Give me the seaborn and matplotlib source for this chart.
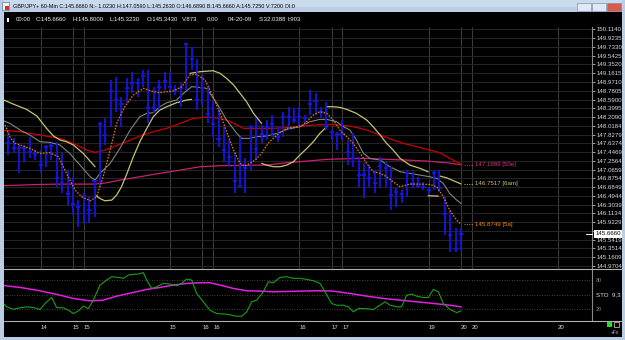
import numpy as np
import pandas as pd
import matplotlib
matplotlib.use("Agg")
import matplotlib.pyplot as plt
import seaborn as sns
from matplotlib.patches import Rectangle
from matplotlib.lines import Line2D

# ---------------- data ----------------
bar_high = [147.889, 147.744, 147.599, 147.599, 147.780, 147.490, 147.490, 147.599, 147.635, 147.671,
            147.417, 147.054, 146.909, 146.401, 146.546, 146.474, 146.836, 148.107, 148.179, 149.014,
            149.087, 148.651, 149.050, 149.196, 149.050, 149.232, 149.232, 148.869, 149.014, 149.196,
            149.159, 148.905, 148.942, 149.813, 149.740, 149.464, 149.123, 148.869, 148.579, 148.397,
            147.998, 147.708, 147.417, 147.780, 147.308, 148.034, 148.179, 148.034, 148.143, 148.252,
            147.998, 148.325, 148.433, 148.397, 148.433, 148.252, 148.796, 148.724, 148.433, 148.542,
            147.925, 147.889, 148.143, 147.708, 147.853, 147.345, 147.199, 147.163, 147.054, 147.345,
            147.236, 147.127, 146.655, 146.619, 147.054, 147.018, 146.909, 146.800, 146.691, 147.059,
            147.054, 146.474, 146.183, 145.784, 145.800]
bar_low = [147.381, 147.453, 146.982, 147.236, 147.308, 147.272, 146.982, 147.127, 147.272, 146.691,
           146.546, 146.292, 146.074, 145.820, 145.893, 145.893, 146.038, 146.691, 147.599, 147.998,
           148.325, 147.998, 148.506, 148.724, 148.651, 148.869, 148.070, 148.288, 148.361, 148.796,
           148.724, 148.687, 148.433, 148.796, 149.232, 148.361, 148.470, 148.070, 147.780, 147.562,
           147.236, 147.127, 146.546, 146.691, 146.546, 147.054, 147.272, 147.635, 147.708, 147.780,
           147.671, 147.780, 147.925, 148.070, 147.998, 148.034, 148.252, 148.252, 148.179, 147.925,
           147.708, 147.490, 147.708, 147.163, 147.127, 146.691, 146.437, 146.691, 146.546, 146.691,
           146.691, 146.183, 146.256, 146.328, 146.474, 146.655, 146.655, 146.619, 146.510, 146.619,
           146.582, 145.638, 145.263, 145.276, 145.323]
bar_close = [147.649, 147.541, 147.541, 147.541, 147.453, 147.395, 147.163, 147.562, 147.577, 146.887,
             146.764, 146.532, 146.321, 146.248, 146.495, 146.176, 146.822, 148.049, 147.816, 148.782,
             148.579, 148.491, 148.833, 148.942, 148.942, 149.101, 148.397, 148.397, 148.869, 149.000,
             148.869, 148.796, 148.847, 149.791, 149.471, 148.579, 148.833, 148.266, 148.056, 147.729,
             147.490, 147.345, 146.822, 146.713, 147.105, 147.998, 147.504, 147.838, 147.998, 148.049,
             147.766, 148.216, 148.201, 148.143, 148.201, 148.179, 148.484, 148.564, 148.325, 148.034,
             147.889, 147.838, 147.838, 147.439, 147.308, 146.945, 146.945, 146.873, 146.764, 147.149,
             147.091, 146.510, 146.582, 146.532, 146.982, 146.749, 146.713, 146.691, 146.619, 146.982,
             146.655, 146.088, 145.638, 145.326, 145.666]

ma5_x = [-0.6, 0.3, 1.2, 2.2, 4, 5.9, 7.7, 9.3, 10.8, 12.4, 13.6, 15.2, 16.4, 17.6, 18.9, 20.1, 21.6, 23.2,
         25.1, 26.9, 28.1, 29.4, 30.6, 32.2, 33.7, 34.9, 36.5, 38, 39.3, 40.5, 41.8, 43, 43.9, 44.8, 45.8,
         47, 48.2, 49.8, 51.7, 53.5, 54.7, 56.6, 57.8, 59.1, 60.3, 61.5, 62.8, 64, 65.3, 66.5, 67.7, 69,
         70.2, 71.4, 72.7, 74.5, 76.4, 78.2, 79.5, 80.7, 81.9, 83.2, 84]
ma5_y = [148.034, 147.780, 147.635, 147.599, 147.526, 147.417, 147.432, 147.345, 146.982, 146.619,
         146.474, 146.386, 146.474, 146.909, 147.490, 148.070, 148.433, 148.688, 148.833, 148.760,
         148.738, 148.760, 148.775, 148.869, 149.123, 149.138, 149.014, 148.651, 148.288, 147.889,
         147.490, 147.199, 147.141, 147.199, 147.272, 147.417, 147.635, 147.816, 147.962, 147.998,
         148.034, 148.252, 148.325, 148.288, 148.143, 147.925, 147.780, 147.635, 147.417, 147.199,
         147.018, 146.982, 146.909, 146.800, 146.691, 146.749, 146.749, 146.742, 146.691, 146.474,
         146.183, 145.965, 145.875]

gray_x = [-1.54, 0.3, 2.2, 4.0, 5.9, 7.7, 9.6, 11.4, 13.3, 15.2, 16.1, 17.0, 18.9, 20.7, 22.6, 24.4, 25.7,
          26.9, 28.1, 29.4, 31.2, 32.5, 34.0, 35.6, 36.8, 38.7, 40.5, 42.4, 43.3, 44.8, 46.1, 47.9, 49.8,
          51.7, 54.1, 56.0, 57.8, 59.1, 60.9, 62.2, 63.4, 64.6, 65.9, 67.1, 69.0, 70.8, 72.7, 74.5, 76.4,
          78.2, 79.5, 80.7, 81.9, 83.2, 84]
gray_y = [148.157, 148.070, 147.925, 147.816, 147.671, 147.657, 147.599, 147.417, 147.163, 146.909,
          146.836, 146.982, 147.199, 147.526, 147.925, 148.216, 148.288, 148.303, 148.433, 148.520,
          148.579, 148.724, 148.869, 148.854, 148.833, 148.506, 148.143, 147.853, 147.744, 147.744,
          147.780, 147.795, 147.853, 147.940, 147.998, 148.107, 148.157, 148.157, 148.107, 147.998,
          147.925, 147.708, 147.417, 147.308, 147.272, 147.127, 147.018, 146.982, 146.945, 146.909,
          146.873, 146.764, 146.546, 146.401, 146.328]

red_x = [-1.54, 2.2, 5.9, 9.6, 12.1, 14.5, 16.1, 17.6, 19.5, 21.9, 24.4, 26.9, 29.4, 31.9, 34.3, 36.2,
         38.0, 40.5, 42.4, 43.6, 46.1, 48.6, 51.7, 54.1, 56.6, 59.1, 61.5, 64.0, 66.5, 69.0, 71.4, 73.3,
         75.8, 78.2, 80.1, 81.9, 83.8, 84]
red_y = [147.925, 147.889, 147.816, 147.744, 147.635, 147.490, 147.439, 147.475, 147.562, 147.671,
         147.795, 147.889, 147.962, 148.070, 148.179, 148.201, 148.201, 148.143, 148.034, 147.962,
         147.962, 147.962, 147.976, 147.998, 148.034, 148.049, 148.034, 147.998, 147.925, 147.816,
         147.708, 147.635, 147.562, 147.490, 147.432, 147.308, 147.199, 147.163]

ema50_x = [-1.54, 2.2, 5.9, 9.6, 13.3, 16.1, 18.3, 20.7, 24.4, 28.1, 31.9, 35.6, 39.3, 43.0, 47.9, 51.7,
           55.4, 59.1, 62.8, 66.5, 70.2, 73.9, 77.6, 81.3, 84]
ema50_y = [146.713, 146.727, 146.742, 146.749, 146.749, 146.749, 146.778, 146.836, 146.909, 146.982,
           147.054, 147.127, 147.149, 147.156, 147.163, 147.214, 147.250, 147.287, 147.301, 147.308,
           147.287, 147.272, 147.250, 147.214, 147.170]

khaki_x = [
    [-1.54, 0.9, 3.4, 5.3, 7.1, 8.4, 9.6, 10.8, 12.1, 13.9, 16.1],
    [16.1, 17.0, 17.9, 19.2, 20.1, 21.0, 21.9, 23.2, 24.4, 25.7, 26.9, 28.1, 29.4, 31.2, 33.1, 34.0],
    [33.7, 35.6, 38.0, 39.3, 40.5, 41.8, 43.0, 44.2, 45.5, 47.0],
    [47.0, 47.9, 49.2, 50.4, 51.7, 52.9, 54.1, 55.4, 56.6, 57.8, 59.1],
    [59.1, 60.3, 61.5, 62.8, 64.6, 66.5, 67.7, 69.0, 70.2, 71.4, 72.7, 74.5, 76.4, 77.9],
    [77.9, 79.8],
    [80.1, 81.3, 82.6, 84],
]
khaki_y = [
    [148.615, 148.491, 148.375, 148.230, 147.962, 147.795, 147.708, 147.671, 147.599, 147.417, 147.127],
    [146.510, 146.437, 146.386, 146.401, 146.510, 146.691, 146.945, 147.345, 147.671, 147.962, 148.216,
     148.361, 148.433, 148.520, 148.579, 148.593],
    [149.159, 149.196, 149.217, 149.159, 149.050, 148.905, 148.724, 148.542, 148.288, 148.070],
    [147.199, 147.163, 147.127, 147.127, 147.163, 147.236, 147.381, 147.526, 147.671, 147.853, 147.998],
    [148.433, 148.433, 148.419, 148.375, 148.288, 148.143, 147.998, 147.816, 147.635, 147.490, 147.308,
     147.163, 147.091, 147.018],
    [146.495, 146.488],
    [146.923, 146.887, 146.822, 146.752],
]

stok_x = [-0.92, -0.3, 0.93, 2.17, 3.41, 4.64, 5.88, 6.81, 8.05, 8.97, 10.21, 11.14, 12.07, 12.99, 13.92,
          14.85, 15.78, 17.01, 18.25, 19.18, 20.41, 21.34, 22.27, 23.2, 24.12, 25.05, 25.67, 26.6, 27.53,
          28.76, 30.0, 31.24, 32.17, 33.09, 34.02, 34.95, 36.18, 37.42, 38.66, 40.51, 42.37, 43.3, 44.22,
          45.15, 46.08, 47.32, 48.24, 49.17, 50.41, 51.64, 52.88, 54.12, 55.36, 56.59, 57.83, 58.76, 60.0,
          60.92, 62.16, 63.09, 64.01, 64.94, 66.18, 67.73, 68.96, 69.89, 70.82, 72.05, 72.98, 73.91, 74.84,
          75.76, 77.0, 77.93, 78.86, 79.79, 80.71, 81.95, 83.19, 84.0]
stok_y = [32.2, 25.3, 20.5, 23.3, 25.3, 23.9, 19.9, 32.2, 44.4, 23.9, 23.3, 18.5, 11.7, 17.1, 26.7,
          21.9, 39.0, 69.7, 80.0, 86.8, 85.4, 83.4, 90.2, 91.6, 92.3, 95.0, 80.0, 62.9, 66.3,
          73.1, 71.8, 68.4, 73.1, 82.0, 80.0, 52.6, 35.6, 18.5, 11.7, 10.3, 6.2, 6.2, 15.1,
          35.6, 39.0, 56.1, 76.5, 74.5, 85.4, 86.8, 83.4, 83.4, 81.3, 78.6, 73.1, 56.1, 32.2,
          28.7, 28.7, 25.3, 15.1, 21.9, 21.9, 19.9, 28.7, 35.6, 28.7, 25.3, 25.3, 49.2, 51.3,
          47.2, 44.4, 44.4, 60.8, 56.1, 32.2, 19.9, 13.7, 17.1]

stod_x = [-1.54, 2.17, 5.88, 9.59, 12.07, 15.16, 17.63, 20.1, 23.2, 25.67, 28.15, 30.62, 33.09, 35.56,
          37.42, 39.28, 41.75, 44.22, 46.7, 49.17, 51.64, 54.12, 57.83, 60.3, 63.4, 66.5, 69.6, 72.7,
          75.8, 78.9, 81.95, 84.0]
stod_y = [69.7, 64.9, 58.1, 49.2, 42.4, 37.6, 39.0, 47.2, 54.7, 60.8, 64.9, 69.7, 73.1, 74.5,
          74.5, 69.7, 62.9, 58.1, 57.4, 56.1, 56.7, 57.4, 58.1, 57.4, 52.6, 47.2, 42.4, 39.0,
          35.6, 32.2, 28.7, 25.3]

price_ticks = ["150.1140", "149.9235", "149.7330", "149.5425", "149.3520", "149.1615", "148.9710",
               "148.7805", "148.5900", "148.3995", "148.2090", "148.0184", "147.8279", "147.6374",
               "147.4469", "147.2564", "147.0659", "146.8754", "146.6849", "146.4944", "146.3039",
               "146.1134", "145.9229", "145.7324", "145.5419", "145.3514", "145.1609", "144.9704"]
day_idx = [6, 12, 14, 30, 36, 38, 54, 60, 62, 78, 84, 86, 102]
day_labels = ["14", "15", "15", "15", "16", "16", "16", "17", "17", "19", "20", "20", "20"]
last_price = 145.666
label_ema50 = "147.1699 [50e]"
label_khaki = "146.7517 [6am]"
label_ma5 = "145.8749 [5a]"
title_text = ("GBP/JPY+ 60-Min C:145.6660 N:- 1.0230 H:147.0590 L:145.2630 O:146.6890 "
              "B:145.6660 A:145.7250 V:7200 OI:0")
info_items = ["00:00", "C:145.6660", "H:145.8000", "L:145.3230", "O:145.3430", "V:873", "0.00",
              "04-20-09", "S:32.0388", "I:903"]
info_px = [15.7, 35.3, 72.7, 110, 146.7, 182.3, 206.3, 227.7, 258.7, 287.3]

# ---------------- style ----------------
sns.set_style("dark")
plt.rcParams['font.family'] = ['Liberation Sans', 'DejaVu Sans']
plt.rcParams['axes.unicode_minus'] = False

W, H = 625, 340
fig = plt.figure(figsize=(W / 100, H / 100), dpi=100, facecolor='black')


def fx(px):
    return px / W


def fy(py):
    return 1 - py / H


ax = fig.add_axes([fx(4), fy(269), fx(592) - fx(4), fy(26.5) - fy(269)])
ax2 = fig.add_axes([fx(4), fy(320.5), fx(592) - fx(4), fy(269) - fy(320.5)])

XMIN, XMAX = -0.8, 108.3
for a in (ax, ax2):
    a.set_facecolor('black')
    a.set_xlim(XMIN, XMAX)
    for s in ('top', 'left', 'bottom'):
        a.spines[s].set_visible(False)
    a.spines['right'].set_color('#8a8a8a')
    a.spines['right'].set_linewidth(0.8)

# ---- main panel ----
ax.set_ylim(144.901, 150.179)
tick_vals = [float(t) for t in price_ticks]
ax.set_yticks(tick_vals)
ax.set_yticklabels([t if t != "145.7324" else "" for t in price_ticks])
ax.yaxis.tick_right()
ax.tick_params(axis='y', length=2.2, width=0.6, color='#bbbbbb', labelcolor='#dcdcdc',
               labelsize=4.4, pad=1.2)
ax.set_xticks(day_idx)
ax.tick_params(axis='x', length=0, labelbottom=False)
ax.yaxis.grid(True, color='#242424', lw=0.8)
ax.xaxis.grid(True, color='#3a3a3a', lw=0.8)
ax.set_axisbelow(True)

# moving averages (seaborn)
sns.lineplot(x=ema50_x, y=ema50_y, ax=ax, color='#c8206e', lw=0.9, sort=False, estimator=None)
sns.lineplot(x=red_x, y=red_y, ax=ax, color='#c80000', lw=0.9, sort=False, estimator=None)
sns.lineplot(x=gray_x, y=gray_y, ax=ax, color='#8a8a8a', lw=0.75, sort=False, estimator=None)
kdf = pd.DataFrame({
    'x': [v for seg in khaki_x for v in seg],
    'y': [v for seg in khaki_y for v in seg],
    'seg': [k for k, seg in enumerate(khaki_x) for _ in seg],
})
sns.lineplot(data=kdf, x='x', y='y', units='seg', estimator=None, sort=False, ax=ax,
             color='#c9c272', lw=0.9, legend=False)

# OHLC bars
idx = np.arange(len(bar_close))
ax.vlines(idx, bar_low, bar_high, color='#1414e6', lw=1.3, zorder=4)
ax.hlines(bar_close, idx - 0.38, idx + 0.38, color='#1414e6', lw=1.4, zorder=4)

sns.lineplot(x=ma5_x, y=ma5_y, ax=ax, color='#f08000', lw=0.9, sort=False, estimator=None,
             linestyle=(0, (1.2, 1.2)), zorder=5)
ax.set_xlabel('')
ax.set_ylabel('')

# end labels of the averages
lab_x = (475 - 8.3) / 5.39
for val, txt, col in ((ema50_y[-1], label_ema50, '#e0308c'),
                      (khaki_y[-1][-1], label_khaki, '#c9c272'),
                      (ma5_y[-1], label_ma5, '#f08a10')):
    ax.plot([84.6, lab_x - 0.3], [val, val], color=col, lw=0.7, ls=(0, (1, 1.5)))
    ax.text(lab_x, val, txt, color=col, fontsize=4.4, va='center', ha='left')

# current price box
fig.text(fx(595.5), fy(233.8), f"{last_price:.4f}", color='black', fontsize=4.4,
         va='center', ha='left', bbox=dict(fc='white', ec='none', pad=0.9))
fig.add_artist(Line2D([fx(586), fx(592)], [fy(233.8), fy(233.8)], color='white', lw=0.7))

# ---- oscillator panel ----
ax2.set_ylim(-2.5, 102.5)
ax2.set_yticks([])
ax2.set_xticks(day_idx)
ax2.set_xticklabels(day_labels, ha='left')
ax2.tick_params(axis='x', length=2.5, width=0.6, color='#bbbbbb', labelcolor='#dcdcdc',
                labelsize=4.3, pad=0.6, direction='out')
for lvl in (20, 50, 80):
    ax2.axhline(lvl, color='#5a5a5a', lw=0.6, ls=(0, (1, 2)))
sns.lineplot(x=stod_x, y=stod_y, ax=ax2, color='#e020e0', lw=1.1, sort=False, estimator=None)
sns.lineplot(x=stok_x, y=stok_y, ax=ax2, color='#18a018', lw=0.8, sort=False, estimator=None)
ax2.set_xlabel('')
ax2.set_ylabel('')
fig.text(fx(596), fy(280), "80", color='#8a8a8a', fontsize=4.0, va='center')
fig.text(fx(596), fy(295), "STO  9,3", color='#e6e6e6', fontsize=4.4, va='center')
fig.text(fx(596), fy(309.3), "20", color='#8a8a8a', fontsize=4.0, va='center')

# separators
for py in (269, 320.5):
    fig.add_artist(Line2D([fx(4), fx(622)], [fy(py), fy(py)], color='#b0b0b0', lw=0.8))

# ---- window chrome ----
chrome = '#b9cde4'
fig.add_artist(Rectangle((0, fy(11.5)), 1, 11.5 / H, transform=fig.transFigure, fc='#cadaed', ec='none'))
fig.add_artist(Rectangle((0, fy(11.5)), 1, 5 / H, transform=fig.transFigure, fc='#bccfe6', ec='none'))
fig.add_artist(Rectangle((0, 0), fx(3.5), 1, transform=fig.transFigure, fc=chrome, ec='none'))
fig.add_artist(Rectangle((fx(622), 0), fx(3), 1, transform=fig.transFigure, fc=chrome, ec='none'))
fig.add_artist(Rectangle((0, 0), 1, 3.5 / H, transform=fig.transFigure, fc=chrome, ec='none'))
fig.add_artist(Rectangle((fx(2), fy(9.5)), fx(7), 7 / H, transform=fig.transFigure,
                         fc='#f4f4f4', ec='#4060a0', lw=0.4))
fig.add_artist(Rectangle((fx(5), fy(9.5)), fx(4), 4 / H, transform=fig.transFigure, fc='#d03030', ec='none'))
for bx, col in ((577, '#dfe8f3'), (592, '#dfe8f3'), (607, '#d85a48')):
    fig.add_artist(Rectangle((fx(bx), fy(10.5)), fx(13.5), 7 / H, transform=fig.transFigure,
                             fc=col, ec='#6c84a8', lw=0.4))
fig.text(fx(13), fy(6.2), title_text, color='black', fontsize=4.0, va='center', ha='left')

# info line
fig.add_artist(Rectangle((fx(6.5), fy(21.5)), fx(2), 4 / H, transform=fig.transFigure, fc='white', ec='none'))
for t, px in zip(info_items, info_px):
    fig.text(fx(px), fy(19.3), t, color='#f0f0f0', fontsize=4.3, va='center', ha='left')

# bottom-right status widgets
fig.add_artist(Rectangle((fx(607), fy(327)), fx(5), 5 / H, transform=fig.transFigure, fc='#20e020', ec='none'))
fig.add_artist(Rectangle((fx(613.5), fy(327)), fx(5), 5 / H, transform=fig.transFigure,
                         fc='black', ec='#d0d0d0', lw=0.5))
fig.text(fx(611), fy(332), "+Fx", color='#c0c0c0', fontsize=3.5, va='center')

fig.savefig("out.png", dpi=100, facecolor='black')
